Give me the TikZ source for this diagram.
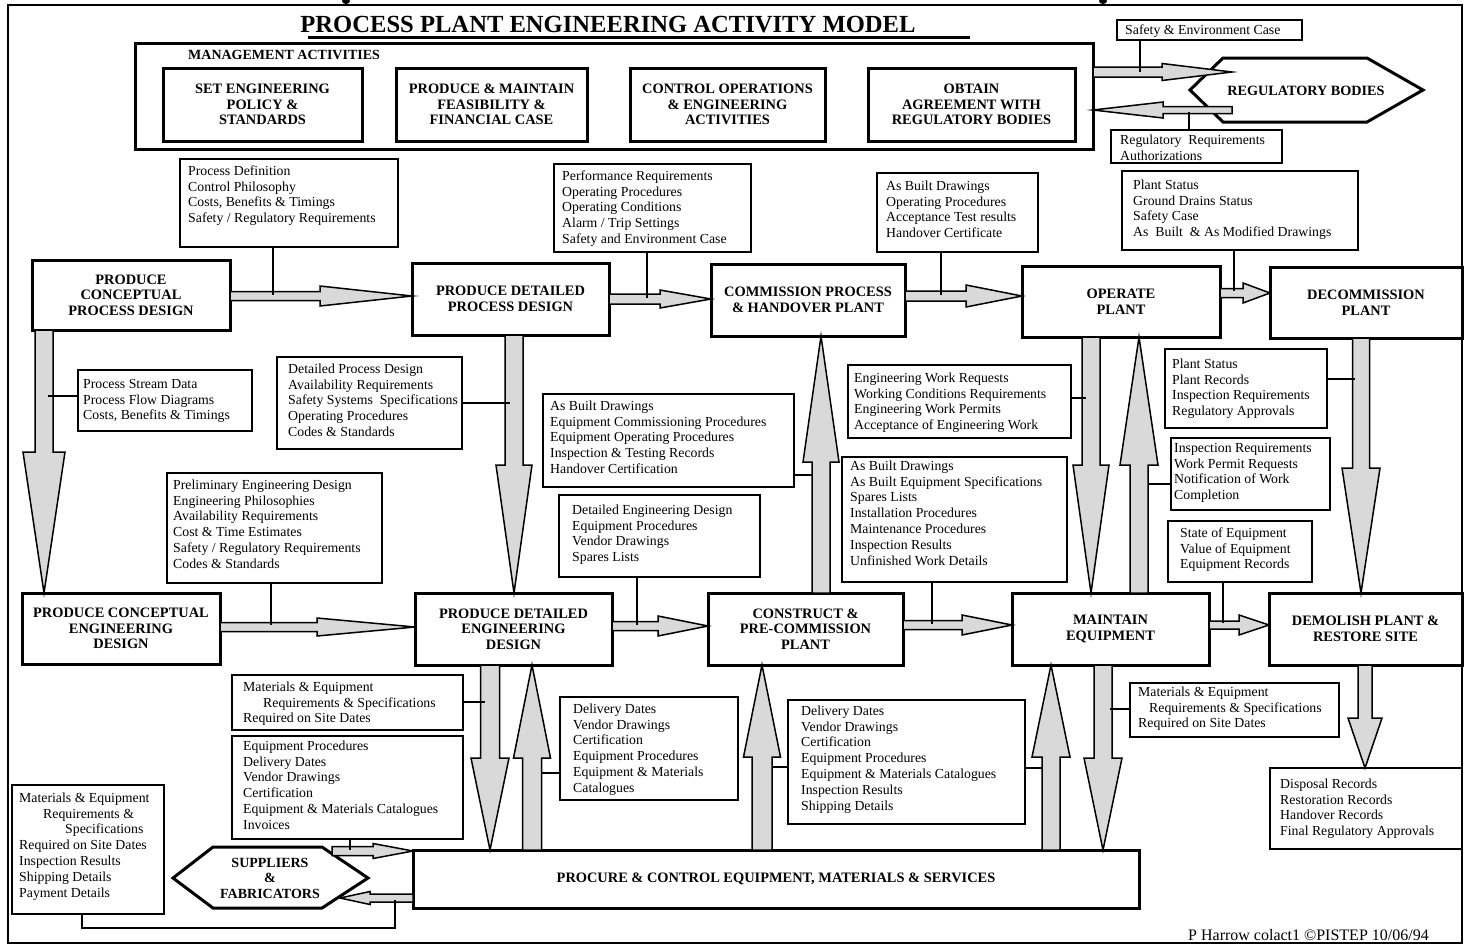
\documentclass[tikz,border=0pt]{standalone}
\usepackage{fontspec}
\setmainfont{Liberation Serif}
\usetikzlibrary{calc}
\definecolor{arrowgray}{RGB}{217,217,217}
\newcommand{\bodyfont}{\fontsize{13.8}{15.8}\selectfont}
\newcommand{\boldfont}{\fontsize{14.4}{15.5}\selectfont\bfseries}

% thick activity box given by its corners
\newcommand{\mainbox}[6]{%
  \pgfmathsetmacro\bw{#4-#2}\pgfmathsetmacro\bh{#5-#3}%
  \node[mainnode, minimum width=\bw pt, minimum height=\bh pt] (#1) at ({(#2+#4)/2},{(#3+#5)/2}) {#6};}
% thin information box: corners, then left edge and first baseline of its text
\newcommand{\textbox}[8]{%
  \pgfmathsetmacro\bw{#4-#2}\pgfmathsetmacro\bh{#5-#3}%
  \node[tframe, minimum width=\bw pt, minimum height=\bh pt] (#1) at (#2,#3) {};
  \node[ttext] (#1-t) at (#6,{#7-15}) {\rule{0pt}{15pt}#8};}
% horizontal block arrow: from, to, y, head length, shaft half width, head half width
\newcommand{\harrow}[6]{%
  \draw[blk] ($(#1 |- 0,#3)+(0,{-(#5)})$)
    -- ($(#2 |- 0,#3)+({-(#4)},{-(#5)})$)
    -- ($(#2 |- 0,#3)+({-(#4)},{-(#6)})$)
    -- (#2 |- 0,#3)
    -- ($(#2 |- 0,#3)+({-(#4)},{#6})$)
    -- ($(#2 |- 0,#3)+({-(#4)},{#5})$)
    -- ($(#1 |- 0,#3)+(0,{#5})$) -- cycle;}
% vertical block arrow: from, to, x, head length, shaft half width, head half width
\newcommand{\varrow}[6]{%
  \draw[blk] ($(#1 -| #3,0)+({-(#5)},0)$)
    -- ($(#2 -| #3,0)+({-(#5)},{-(#4)})$)
    -- ($(#2 -| #3,0)+({-(#6)},{-(#4)})$)
    -- (#2 -| #3,0)
    -- ($(#2 -| #3,0)+({#6},{-(#4)})$)
    -- ($(#2 -| #3,0)+({#5},{-(#4)})$)
    -- ($(#1 -| #3,0)+({#5},0)$) -- cycle;}

\begin{document}
\begin{tikzpicture}[x=1pt,y=-1pt,
  mainnode/.style={draw, line width=3pt, align=center, inner sep=0pt, outer sep=0pt, font=\boldfont},
  tframe/.style={draw, line width=1.4pt, anchor=north west, inner sep=0pt, outer sep=0pt},
  ttext/.style={anchor=north west, inner sep=0pt, align=left, font=\bodyfont},
  blk/.style={draw, fill=arrowgray, line width=1.5pt, line join=miter},
  conn/.style={line width=1.4pt},
  hexa/.style={line width=3pt, line join=miter}]
\useasboundingbox (0,0) rectangle (1465,946);

% frame, clipped heading and title
\draw[line width=2pt] (8,5) rectangle (1462,943);
\fill (346,1) ellipse [x radius=4pt, y radius=3pt];
\fill (1103,1) ellipse [x radius=4pt, y radius=3pt];
\node[anchor=base, inner sep=0pt, font=\fontsize{24.6}{28}\selectfont\bfseries] (title) at (608,32) {PROCESS PLANT ENGINEERING ACTIVITY MODEL};
\draw[line width=3pt] (308,37.5) -- (970,37.5);

% management activities
\mainbox{mgmt}{135}{43}{1093}{149}{}
\node[anchor=base west, inner sep=0pt, font=\fontsize{14}{16}\selectfont\bfseries] (mtitle) at (188,59) {MANAGEMENT ACTIVITIES};
\mainbox{m1}{163}{68}{362}{141}{SET ENGINEERING\\POLICY \&\\STANDARDS}
\mainbox{m2}{396}{68}{587}{141}{PRODUCE \& MAINTAIN\\FEASIBILITY \&\\FINANCIAL CASE}
\mainbox{m3}{630}{68}{825}{141}{CONTROL OPERATIONS\\\& ENGINEERING\\ACTIVITIES}
\mainbox{m4}{868}{68}{1075}{141}{OBTAIN\\AGREEMENT WITH\\REGULATORY BODIES}

% external parties
\draw[hexa] (1190,90) -- (1223,58) -- (1367,58) -- (1423,90) -- (1367,122) -- (1223,122) -- cycle;
\node[font=\fontsize{14.2}{16}\selectfont\bfseries, inner sep=0pt] (reg) at (1306,91) {REGULATORY BODIES};
\draw[hexa] (173,878) -- (213,847) -- (322,847) -- (368,878) -- (322,908) -- (213,908) -- cycle;
\node[font=\fontsize{14}{15.5}\selectfont\bfseries, align=center, inner sep=0pt] (sup) at (270,878) {SUPPLIERS\\\&\\FABRICATORS};
\coordinate (regin) at (1232,72);
\coordinate (regout) at (1232,110);
\coordinate (supout) at (332,851);
\coordinate (supin) at (340,898);

% activities
\mainbox{pcpd}{32}{260}{230}{330}{PRODUCE\\CONCEPTUAL\\PROCESS DESIGN}
\mainbox{pdpd}{412}{263}{609}{335}{PRODUCE DETAILED\\PROCESS DESIGN}
\mainbox{comm}{711}{264}{905}{336}{COMMISSION PROCESS\\\& HANDOVER PLANT}
\mainbox{oper}{1022}{266}{1220}{337}{OPERATE\\PLANT}
\mainbox{decom}{1270}{267}{1462}{338}{DECOMMISSION\\PLANT}
\mainbox{pced}{22}{593}{220}{664}{PRODUCE CONCEPTUAL\\ENGINEERING\\DESIGN}
\mainbox{pded}{415}{593}{612}{665}{PRODUCE DETAILED\\ENGINEERING\\DESIGN}
\mainbox{cpc}{708}{593}{903}{665}{CONSTRUCT \&\\PRE-COMMISSION\\PLANT}
\mainbox{maint}{1012}{593}{1209}{665}{MAINTAIN\\EQUIPMENT}
\mainbox{demol}{1269}{593}{1462}{665}{DEMOLISH PLANT \&\\RESTORE SITE}
\mainbox{procure}{413}{850}{1139}{908}{PROCURE \& CONTROL EQUIPMENT, MATERIALS \& SERVICES}

% information flows
\textbox{safe}{1117}{20}{1302}{40}{1125}{34}{Safety \& Environment Case}
\textbox{regreq}{1111}{130}{1282}{163}{1120}{144}{Regulatory~~Requirements\\Authorizations}
\textbox{pdef}{180}{159}{398}{247}{188}{175}{Process Definition\\Control Philosophy\\Costs, Benefits \& Timings\\Safety / Regulatory Requirements}
\textbox{perf}{554}{164}{751}{252}{562}{180}{Performance Requirements\\Operating Procedures\\Operating Conditions\\Alarm / Trip Settings\\Safety and Environment Case}
\textbox{asb1}{877}{173}{1038}{252}{886}{190}{As Built Drawings\\Operating Procedures\\Acceptance Test results\\Handover Certificate}
\textbox{pstat1}{1122}{171}{1358}{250}{1133}{189}{Plant Status\\Ground Drains Status\\Safety Case\\As~ Built~ \& As Modified Drawings}
\textbox{psd}{78}{370}{252}{431}{83}{388}{Process Stream Data\\Process Flow Diagrams\\Costs, Benefits \& Timings}
\textbox{dpd}{277}{357}{462}{449}{288}{373}{Detailed Process Design\\Availability Requirements\\Safety Systems~ Specifications\\Operating Procedures\\Codes \& Standards}
\textbox{asb2}{543}{394}{794}{487}{550}{410}{As Built Drawings\\Equipment Commissioning Procedures\\Equipment Operating Procedures\\Inspection \& Testing Records\\Handover Certification}
\textbox{ewr}{848}{365}{1071}{438}{854}{382}{Engineering Work Requests\\Working Conditions Requirements\\Engineering Work Permits\\Acceptance of Engineering Work}
\textbox{pstat2}{1165}{349}{1327}{428}{1172}{368}{Plant Status\\Plant Records\\Inspection Requirements\\Regulatory Approvals}
\textbox{ped}{167}{473}{382}{583}{173}{489}{Preliminary Engineering Design\\Engineering Philosophies\\Availability Requirements\\Cost \& Time Estimates\\Safety / Regulatory Requirements\\Codes \& Standards}
\textbox{ded}{559}{495}{760}{577}{572}{514}{Detailed Engineering Design\\Equipment Procedures\\Vendor Drawings\\Spares Lists}
\textbox{asb3}{842}{457}{1067}{582}{850}{470}{As Built Drawings\\As Built Equipment Specifications\\Spares Lists\\Installation Procedures\\Maintenance Procedures\\Inspection Results\\Unfinished Work Details}
\textbox{inspr}{1171}{438}{1330}{510}{1174}{452}{Inspection Requirements\\Work Permit Requests\\Notification of Work\\Completion}
\textbox{soe}{1168}{521}{1312}{582}{1180}{537}{State of Equipment\\Value of Equipment\\Equipment Records}
\textbox{mat1}{232}{675}{463}{730}{243}{691}{Materials \& Equipment\\\hspace*{20pt}Requirements \& Specifications\\Required on Site Dates}
\textbox{eqp}{232}{736}{463}{839}{243}{750}{Equipment Procedures\\Delivery Dates\\Vendor Drawings\\Certification\\Equipment \& Materials Catalogues\\Invoices}
\textbox{dd1}{560}{697}{738}{800}{573}{713}{Delivery Dates\\Vendor Drawings\\Certification\\Equipment Procedures\\Equipment \& Materials\\Catalogues}
\textbox{dd2}{788}{700}{1025}{824}{801}{715}{Delivery Dates\\Vendor Drawings\\Certification\\Equipment Procedures\\Equipment \& Materials Catalogues\\Inspection Results\\Shipping Details}
\textbox{mat2}{1130}{683}{1339}{737}{1138}{696}{Materials \& Equipment\\\hspace*{11pt}Requirements \& Specifications\\Required on Site Dates}
\textbox{disp}{1270}{768}{1462}{849}{1280}{788}{Disposal Records\\Restoration Records\\Handover Records\\Final Regulatory Approvals}
\textbox{mat3}{12}{785}{164}{914}{19}{802}{Materials \& Equipment\\\hspace*{24pt}Requirements \&\\\hspace*{46pt}Specifications\\Required on Site Dates\\Inspection Results\\Shipping Details\\Payment Details}

% block arrows between activities
\harrow{pcpd.east}{pdpd.west}{296}{92}{4.5}{10}
\harrow{pdpd.east}{comm.west}{299}{51}{5}{9}
\harrow{comm.east}{oper.west}{296}{56}{5}{11}
\harrow{oper.east}{decom.west}{293}{27}{4.5}{10}
\harrow{pced.east}{pded.west}{627}{98}{4.5}{9}
\harrow{pded.east}{cpc.west}{626}{50}{4.5}{10}
\harrow{cpc.east}{maint.west}{625}{50}{4.5}{10}
\harrow{maint.east}{demol.west}{625}{30}{4}{10}
\harrow{mgmt.east}{regin}{72}{70}{5}{8.5}
\harrow{regout}{mgmt.east}{110}{-70}{3.5}{8}
\harrow{supout}{procure.west}{851}{40}{4.5}{7.5}
\harrow{procure.west}{supin}{898}{-30}{4}{6.5}
\varrow{pcpd.south}{pced.north}{44}{141}{9}{21}
\varrow{pdpd.south}{pded.north}{514}{128}{9}{18}
\varrow{cpc.north}{comm.south}{821}{-126}{9}{18}
\varrow{oper.south}{maint.north}{1091}{128}{9}{18}
\varrow{maint.north}{oper.south}{1139}{-128}{9}{19}
\varrow{decom.south}{demol.north}{1361}{125}{8.5}{19}
\varrow{pded.south}{procure.north}{490}{92}{9.5}{19}
\varrow{procure.north}{pded.south}{532}{-93}{9.5}{18.5}
\varrow{procure.north}{cpc.south}{762}{-92}{10}{18.5}
\varrow{procure.north}{maint.south}{1051}{-92}{9}{19}
\varrow{maint.south}{procure.north}{1103}{92}{9}{19}
\varrow{demol.south}{disp.north}{1365}{50}{7}{17}

% leader lines from information boxes to the flows they label
\draw[conn] (safe.south -| 1140,0) -- (1140,72);
\draw[conn] (regreq.north -| 1189,0) -- (1189,112);
\draw[conn] (pdef.south -| 273,0) -- (273,295);
\draw[conn] (perf.south -| 647,0) -- (647,298);
\draw[conn] (asb1.south -| 941,0) -- (941,295);
\draw[conn] (pstat1.south -| 1234,0) -- (1234,291);
\draw[conn] (psd.west |- 0,396) -- (48,396);
\draw[conn] (dpd.east |- 0,403) -- (510,403);
\draw[conn] (asb2.east |- 0,475) -- (812,475);
\draw[conn] (ewr.east |- 0,398) -- (1086,398);
\draw[conn] (pstat2.east |- 0,379) -- (1355,379);
\draw[conn] (ped.south -| 271,0) -- (271,625);
\draw[conn] (ded.south -| 637,0) -- (637,625);
\draw[conn] (asb3.south -| 932,0) -- (932,624);
\draw[conn] (inspr.west |- 0,484) -- (1148,484);
\draw[conn] (soe.south -| 1223,0) -- (1223,623);
\draw[conn] (mat1.east |- 0,702) -- (485,702);
\draw[conn] (eqp.south -| 350,0) -- (350,850);
\draw[conn] (dd1.west |- 0,773) -- (541,773);
\draw[conn] (dd2.west |- 0,767) -- (772,767);
\draw[conn] (dd2.east |- 0,768) -- (1043,768);
\draw[conn] (mat2.west |- 0,709) -- (1110,709);
\draw[conn] (mat3.south -| 82,0) -- (82,928) -- (395,928) -- (395,900);

% footer
\node[anchor=base west, inner sep=0pt, font=\fontsize{16}{18}\selectfont] (foot) at (1188,940) {P Harrow colact1 ©PISTEP 10/06/94};
\end{tikzpicture}
\end{document}
